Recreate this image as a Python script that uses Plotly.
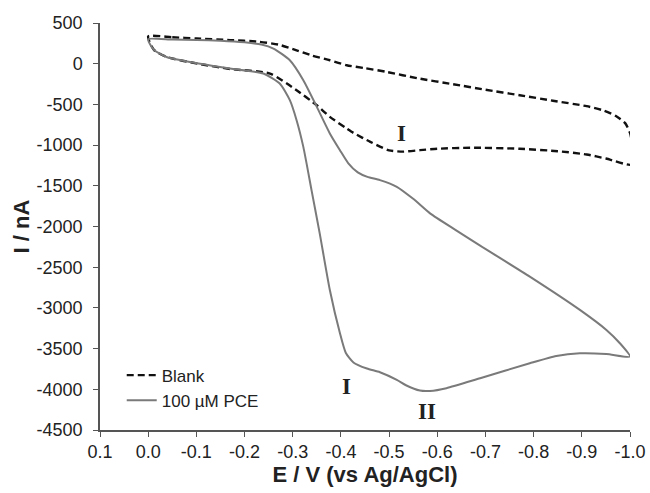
import plotly.graph_objects as go

# Blank CV loop (E in V, I in nA)
blank_E = [0.000, -0.05, -0.10, -0.17, -0.23, -0.27, -0.308, -0.340, -0.377, -0.412, -0.45, -0.495, -0.56,
           -0.633, -0.70, -0.771, -0.84, -0.91, -0.945, -0.970, -0.990, -1.000, -1.005, -1.005,
           -0.95, -0.91, -0.85, -0.771, -0.668, -0.60, -0.564, -0.53, -0.50, -0.461, -0.426, -0.412,
           -0.377, -0.350, -0.308, -0.253, -0.17, -0.108, -0.038, -0.012, 0.000]
blank_I = [335, 325, 310, 290, 270, 235, 165, 100, 42, -19, -55, -101, -180,
           -252, -320, -387, -455, -522, -575, -640, -730, -850, -1000, -1240,
           -1165, -1115, -1075, -1045, -1032, -1045, -1062, -1080, -1065, -960, -850, -796,
           -653, -511, -326, -121, -65, -5, 83, 170, 335]

# 100 uM PCE CV loop
pce_E = [0.000, -0.05, -0.10, -0.15, -0.20, -0.235, -0.260, -0.294, -0.322, -0.350, -0.377, -0.398,
         -0.415, -0.435, -0.455, -0.481, -0.516, -0.55, -0.585, -0.64, -0.689, -0.792, -0.896, -0.951,
         -0.979, -1.000,
         -0.951, -0.896, -0.847, -0.792, -0.689, -0.619, -0.585, -0.564, -0.535, -0.516, -0.481, -0.454,
         -0.426, -0.410, -0.398, -0.377, -0.356, -0.339, -0.322, -0.308, -0.294, -0.273, -0.239, -0.170,
         -0.108, -0.038, -0.012, 0.000]
pce_I = [300, 296, 292, 282, 262, 235, 186, 42, -203, -531, -857, -1063,
         -1220, -1335, -1390, -1430, -1512, -1660, -1839, -2050, -2235, -2616, -3025, -3271,
         -3434, -3598,
         -3566, -3557, -3590, -3680, -3864, -3986, -4020, -4016, -3950, -3884, -3790, -3745,
         -3670, -3550, -3311, -2780, -2084, -1553, -1022, -694, -448, -244, -121, -60,
         0, 83, 170, 300]

x_tickvals = [0.1, 0.0, -0.1, -0.2, -0.3, -0.4, -0.5, -0.6, -0.7, -0.8, -0.9, -1.0]
x_ticktext = ["0.1", "0.0", "-0.1", "-0.2", "-0.3", "-0.4", "-0.5", "-0.6", "-0.7", "-0.8", "-0.9", "-1.0"]
y_tickvals = [500, 0, -500, -1000, -1500, -2000, -2500, -3000, -3500, -4000, -4500]
y_ticktext = ["500", "0", "-500", "-1000", "-1500", "-2000", "-2500", "-3000", "-3500", "-4000", "-4500"]

peak_labels = ["I", "I", "II"]
peak_E = [-0.526, -0.412, -0.578]
peak_I = [-857, -3966, -4273]

fig = go.Figure()
fig.add_trace(go.Scatter(x=blank_E, y=blank_I, mode="lines", name="Blank",
                         line=dict(color="#111111", width=2.4, dash="7px,4px", shape="spline", smoothing=0.6)))
fig.add_trace(go.Scatter(x=pce_E, y=pce_I, mode="lines", name="100 µM PCE",
                         line=dict(color="#7a7a7a", width=2, shape="spline", smoothing=0.6)))

for t, ex, iy in zip(peak_labels, peak_E, peak_I):
    fig.add_annotation(x=ex, y=iy, text="<b>%s</b>" % t, showarrow=False,
                       font=dict(family="Liberation Serif, Times New Roman, serif", size=23, color="#222222"))

fig.update_layout(
    width=650, height=493,
    margin=dict(l=100, r=20, t=23, b=63, autoexpand=False),
    plot_bgcolor="white", paper_bgcolor="white",
    font=dict(family="Liberation Sans, Arial, sans-serif", size=18, color="#222222"),
    showlegend=True,
    legend=dict(x=0.041, y=0.178, xanchor="left", yanchor="top", bgcolor="rgba(0,0,0,0)",
                font=dict(size=17), tracegroupgap=0, itemwidth=30),
)
fig.update_xaxes(range=[0.1, -1.0], tickvals=x_tickvals, ticktext=x_ticktext, automargin=False,
                 showgrid=False, zeroline=False, showline=True, linecolor="#555555", linewidth=1.5,
                 ticks="outside", ticklen=5, tickcolor="#555555",
                 title=dict(text="<b>E / V (vs Ag/AgCl)</b>", font=dict(size=22), standoff=0))
fig.update_yaxes(range=[-4500, 500], tickvals=y_tickvals, ticktext=y_ticktext, automargin=False,
                 showgrid=False, zeroline=False, showline=True, linecolor="#555555", linewidth=1.5,
                 ticks="outside", ticklen=5, tickcolor="#555555", ticklabelstandoff=7,
                 title=dict(text="<b>I / nA</b>", font=dict(size=22), standoff=1))

fig.write_html("out.html", config={"displayModeBar": False},
               post_script="document.body.style.margin='0px';document.body.style.overflow='hidden';")
